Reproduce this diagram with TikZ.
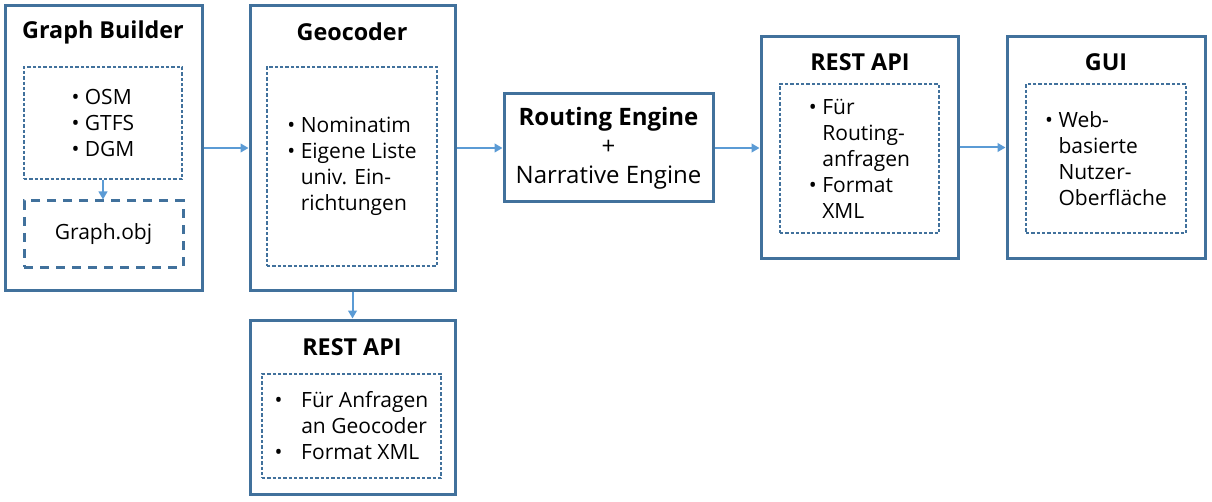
\documentclass[tikz,border=0pt]{standalone}
\usepackage{fontspec}
\setmainfont{Open Sans}
\usetikzlibrary{shapes,arrows.meta,positioning}
\definecolor{boxblue}{HTML}{41719C}
\definecolor{arrowblue}{HTML}{5B9BD5}
\tikzstyle{outer} = [rectangle, draw=boxblue, line width=2.25pt, inner sep=0pt]
\tikzstyle{list} = [rectangle, draw=boxblue, line width=1.5pt, dash pattern=on 2.5pt off 1.5pt,
    align=left, font=\fontsize{15.75}{19.5}\selectfont, inner sep=0pt]
\tikzstyle{result} = [rectangle, draw=boxblue, line width=2.25pt, dash pattern=on 7pt off 5pt,
    font=\fontsize{15.75}{19.5}\selectfont, inner sep=0pt]
\tikzstyle{title} = [font=\bfseries\fontsize{17.5}{21}\selectfont]
\tikzstyle{line} = [draw=arrowblue, line width=1.5pt, -{Triangle[length=6pt,width=6.5pt]}]

\begin{document}
\begin{tikzpicture}[x=0.75pt, y=-0.75pt]
    \useasboundingbox (0,0) rectangle (1212,502);
    % Place nodes
    \node [outer, minimum width=147.75pt, minimum height=213pt] (builder) at (103.5,148) {};
    \node [title] (builderTitle) at (103,32) {Graph Builder};
    \node [list, minimum width=118.5pt, minimum height=84pt] (builderList) at (103,123)
        {\textbullet\ OSM\\\textbullet\ GTFS\\\textbullet\ DGM};
    \node [result, minimum width=119.25pt, minimum height=49.5pt] (graphObj) at (103.5,234) {Graph.obj};

    \node [outer, minimum width=153.75pt, minimum height=213pt] (geocoder) at (352.5,148) {};
    \node [title] (geocoderTitle) at (352,32) {Geocoder};
    \node [list, minimum width=127.5pt, minimum height=149.25pt] (geocoderList) at (352,166.5)
        {\textbullet\ Nominatim\\\textbullet\ Eigene Liste\\\hphantom{\textbullet\ }univ. Ein-\\\hphantom{\textbullet\ }richtungen};

    \node [outer, minimum width=153.75pt, minimum height=130.5pt] (geoApi) at (352.5,407) {};
    \node [title] (geoApiTitle) at (352,347) {REST API};
    \node [list, minimum width=134.25pt, minimum height=78pt] (geoApiList) at (351.5,426)
        {\textbullet\hspace{14pt}Für Anfragen\\\hphantom{\textbullet}\hspace{14pt}an Geocoder\\\textbullet\hspace{14pt}Format XML};

    \node [outer, minimum width=156.75pt, minimum height=81pt, align=center,
        font=\fontsize{18}{21.75}\selectfont] (routing) at (608.5,148)
        {\textbf{Routing Engine}\\+\\Narrative Engine};

    \node [outer, minimum width=147.75pt, minimum height=165.75pt] (routeApi) at (859.5,147.5) {};
    \node [title] (routeApiTitle) at (860,62) {REST API};
    \node [list, minimum width=119.25pt, minimum height=111.75pt] (routeApiList) at (859.5,158.5)
        {\textbullet\ Für\\\hphantom{\textbullet\ }Routing-\\\hphantom{\textbullet\ }anfragen\\\textbullet\ Format\\\hphantom{\textbullet\ }XML};

    \node [outer, minimum width=148.5pt, minimum height=165.75pt] (gui) at (1106,147.5) {};
    \node [title] (guiTitle) at (1106,62) {GUI};
    \node [list, minimum width=120pt, minimum height=111.75pt] (guiList) at (1106,158.5)
        {\textbullet\ Web-\\\hphantom{\textbullet\ }basierte\\\hphantom{\textbullet\ }Nutzer-\\\hphantom{\textbullet\ }Oberfläche};
    % Draw edges
    \path [line] (builderList.south) -- (builderList.south |- graphObj.north);
    \path [line] (builder) -- (geocoder);
    \path [line] (geocoder) -- (routing);
    \path [line] (geocoder.south) -- (geocoder.south |- geoApi.north);
    \path [line] (routing.east) -- (routing.east -| routeApi.west);
    \path [line] (routeApi) -- (gui);
\end{tikzpicture}
\end{document}
